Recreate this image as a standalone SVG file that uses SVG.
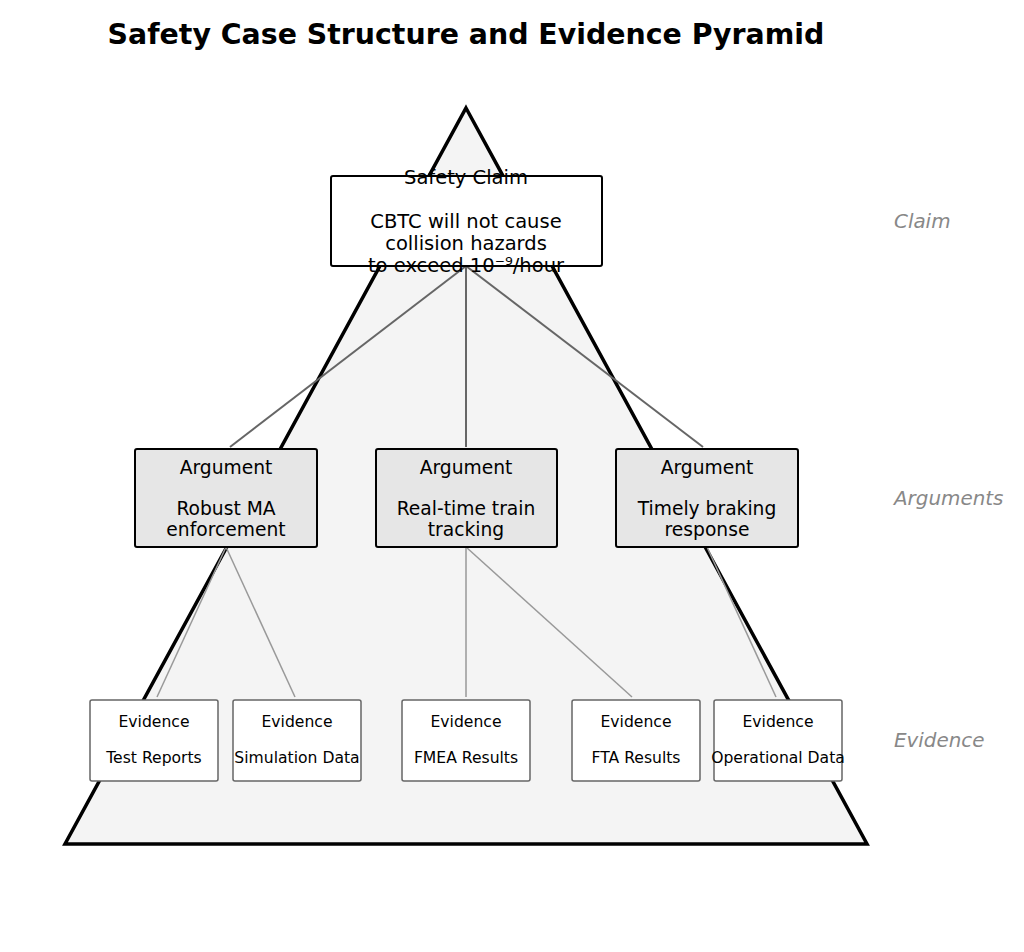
<svg xmlns="http://www.w3.org/2000/svg" width="1024" height="952" viewBox="0 0 1024 952">
<style>
text{font-family:"DejaVu Sans",sans-serif;text-anchor:middle;dominant-baseline:central}
.arg rect{fill:#e6e6e6;stroke:#000;stroke-width:2}
.arg text{font-size:18.7px}
.ev rect{fill:#fff;stroke:#666;stroke-width:1.5}
.ev text{font-size:15.6px}
.lvl{font-size:19.9px;font-style:italic;fill:#888;text-anchor:start}
.cl{font-size:19.5px}
</style>
<rect width="1024" height="952" fill="#fff"/>
<text x="466" y="34" font-size="28.4" font-weight="bold">Safety Case Structure and Evidence Pyramid</text>
<polygon points="466,108 867,844 65,844" fill="#f4f4f4" stroke="#000" stroke-width="3.5"/>
<g id="connectors" fill="none">
<g stroke="#666" stroke-width="2">
<line x1="466" y1="266" x2="230" y2="447"/>
<line x1="466" y1="266" x2="466" y2="447"/>
<line x1="466" y1="266" x2="703" y2="447"/>
</g>
<g stroke="#999" stroke-width="1.5">
<line x1="226" y1="547" x2="157" y2="697"/>
<line x1="226" y1="547" x2="295" y2="697"/>
<line x1="466" y1="547" x2="466" y2="697"/>
<line x1="466" y1="547" x2="632" y2="697"/>
<line x1="707" y1="547" x2="776" y2="697"/>
</g>
</g>
<g id="claim">
<rect x="331" y="176" width="271" height="90" rx="2" fill="#fff" stroke="#000" stroke-width="2"/>
<text class="cl" x="466" y="177">Safety Claim</text>
<text class="cl" x="466" y="221">CBTC will not cause</text>
<text class="cl" x="466" y="243">collision hazards</text>
<text class="cl" x="466" y="265">to exceed 10⁻⁹/hour</text>
</g>
<g id="arg1" class="arg"><rect x="135" y="449" width="182" height="98" rx="2"/><text x="226" y="467">Argument</text><text x="226" y="508">Robust MA</text><text x="226" y="529">enforcement</text></g>
<g id="arg2" class="arg"><rect x="376" y="449" width="181" height="98" rx="2"/><text x="466" y="467">Argument</text><text x="466" y="508">Real-time train</text><text x="466" y="529">tracking</text></g>
<g id="arg3" class="arg"><rect x="616" y="449" width="182" height="98" rx="2"/><text x="707" y="467">Argument</text><text x="707" y="508">Timely braking</text><text x="707" y="529">response</text></g>
<g id="ev1" class="ev"><rect x="90" y="700" width="128" height="81" rx="2"/><text x="154" y="722">Evidence</text><text x="154" y="758">Test Reports</text></g>
<g id="ev2" class="ev"><rect x="233" y="700" width="128" height="81" rx="2"/><text x="297" y="722">Evidence</text><text x="297" y="758">Simulation Data</text></g>
<g id="ev3" class="ev"><rect x="402" y="700" width="128" height="81" rx="2"/><text x="466" y="722">Evidence</text><text x="466" y="758">FMEA Results</text></g>
<g id="ev4" class="ev"><rect x="572" y="700" width="128" height="81" rx="2"/><text x="636" y="722">Evidence</text><text x="636" y="758">FTA Results</text></g>
<g id="ev5" class="ev"><rect x="714" y="700" width="128" height="81" rx="2"/><text x="778" y="722">Evidence</text><text x="778" y="758">Operational Data</text></g>
<text class="lvl" x="894" y="221">Claim</text>
<text class="lvl" x="894" y="498">Arguments</text>
<text class="lvl" x="894" y="740">Evidence</text>
</svg>
